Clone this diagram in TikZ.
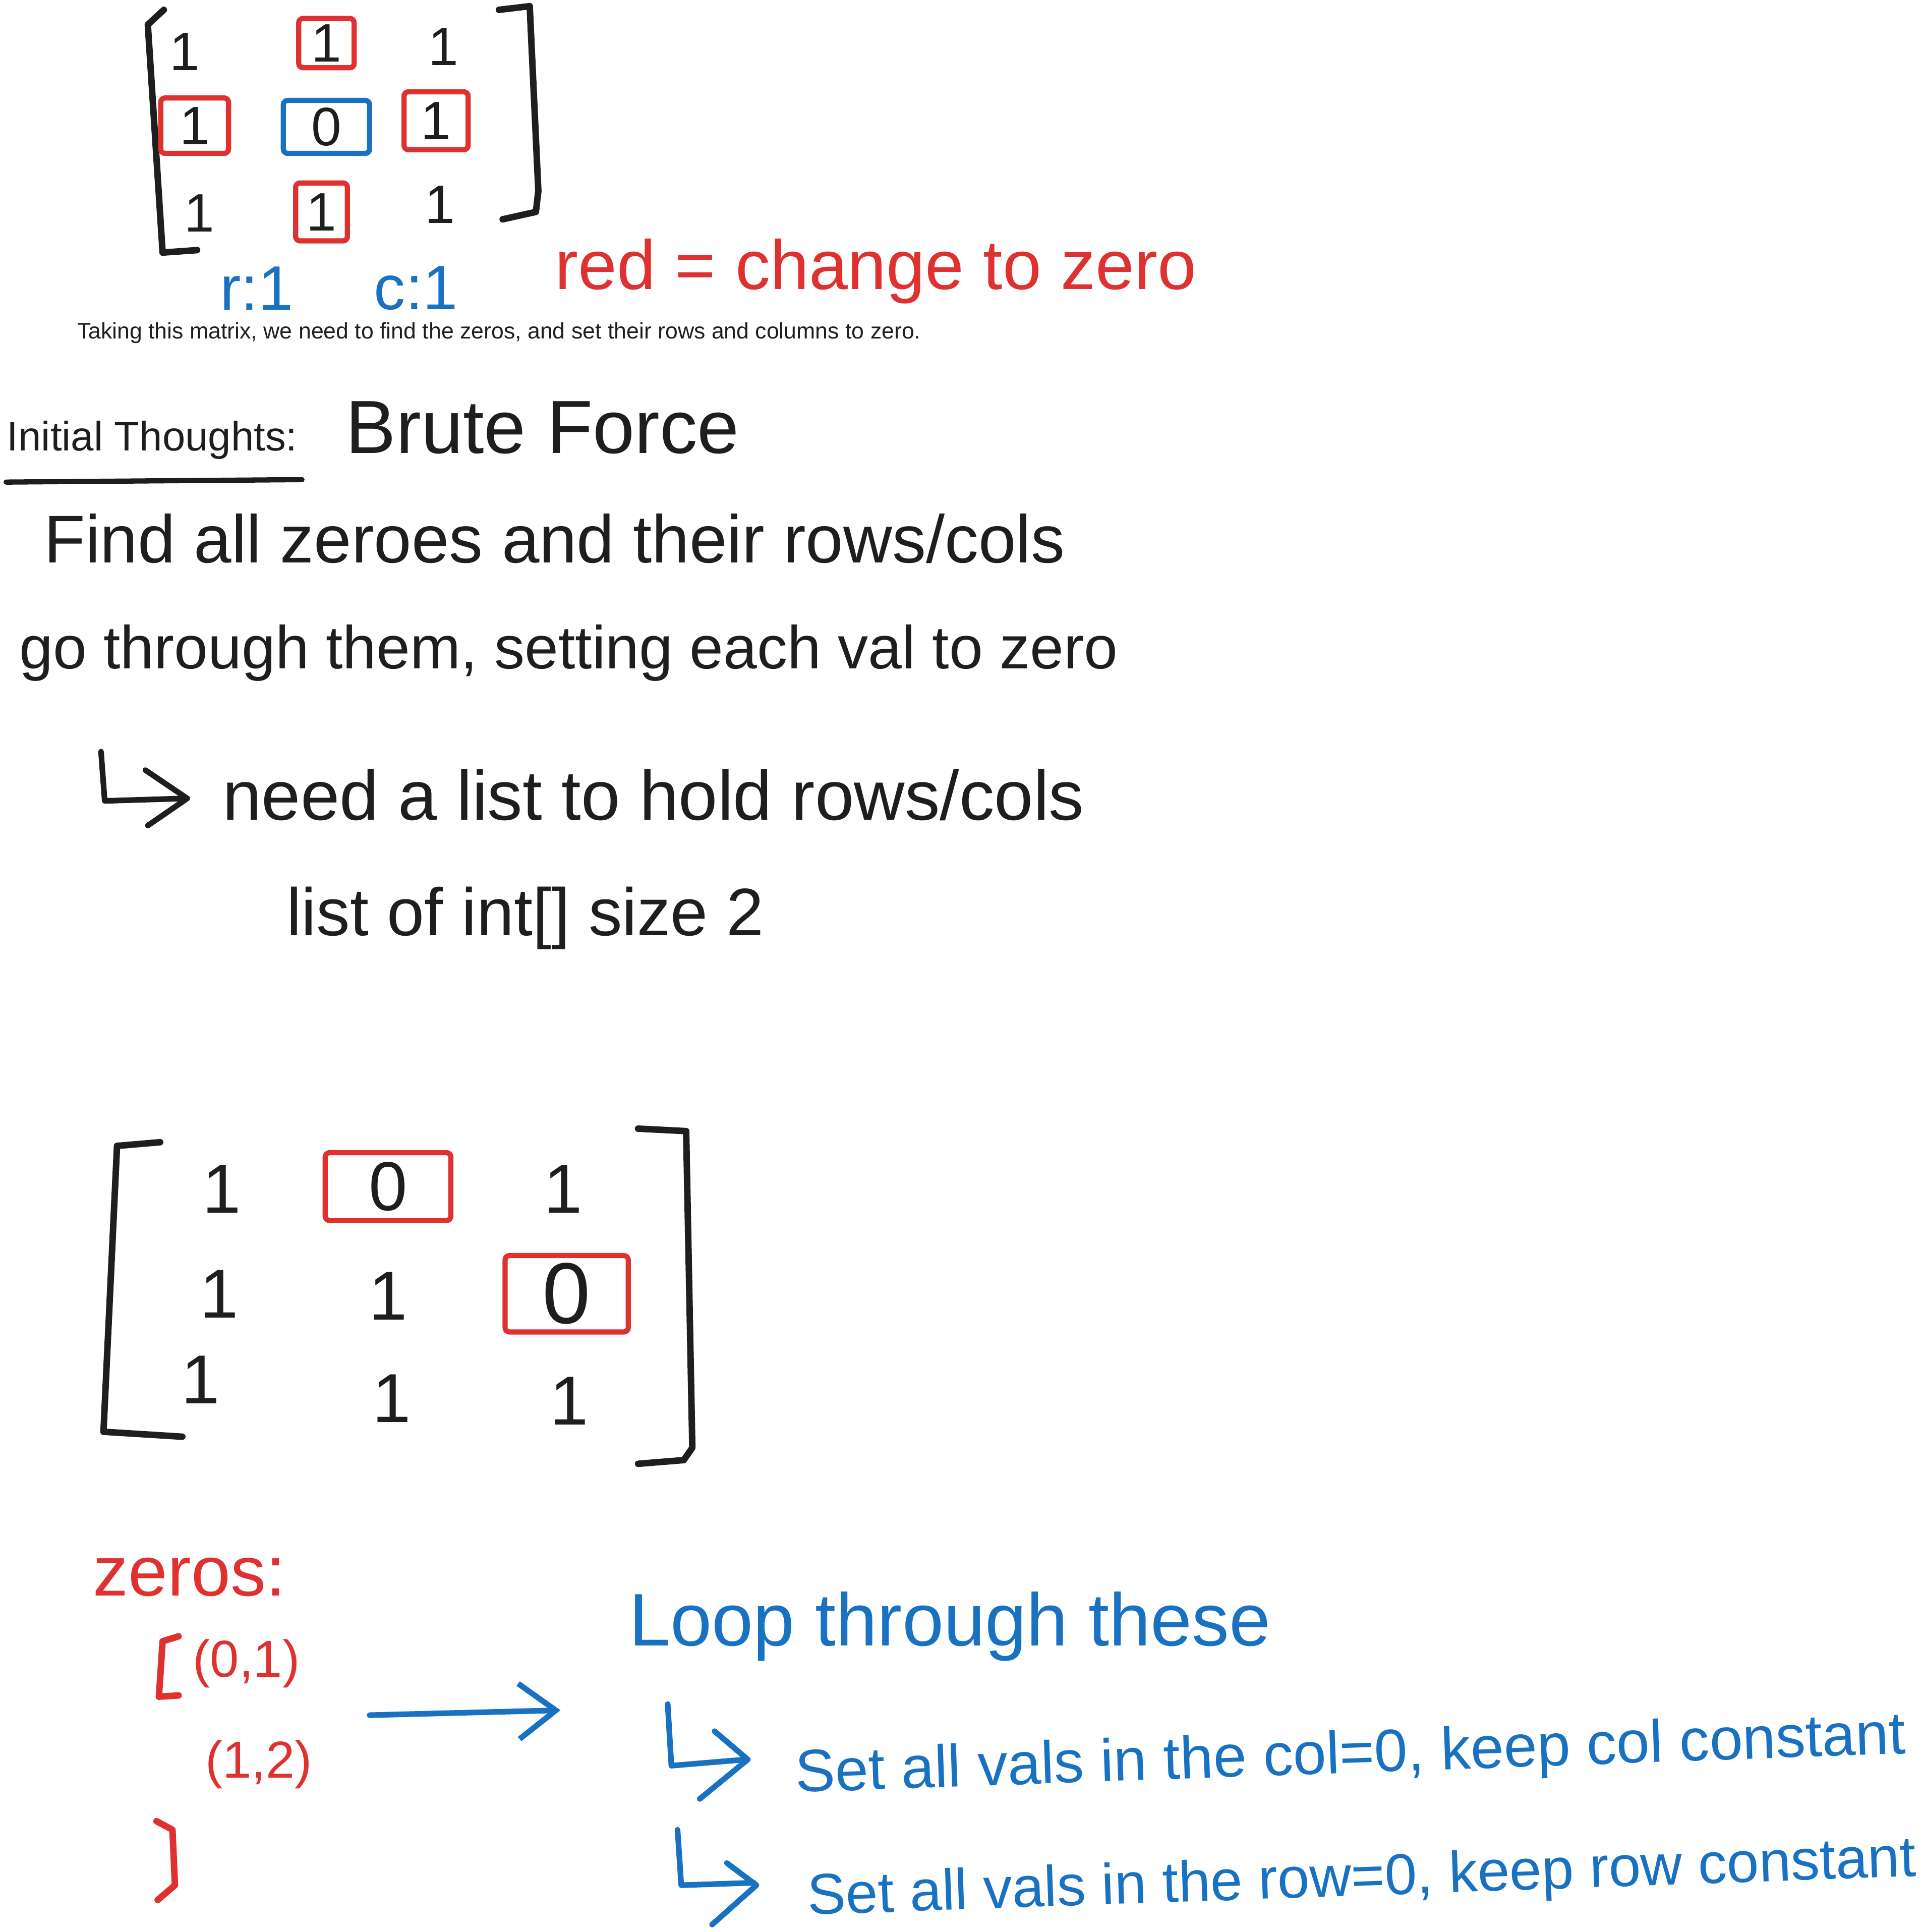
\documentclass[tikz,border=0pt]{standalone}
\usepackage{fontspec}
\setmainfont{Liberation Sans}
\usetikzlibrary{arrows.meta,positioning}
\definecolor{exRed}{HTML}{E03131}
\definecolor{exBlue}{HTML}{1971C2}
\definecolor{exInk}{HTML}{1E1E1E}
\newcommand{\fsz}[1]{\fontsize{#1}{#1}\selectfont}
\tikzset{
  ink/.style={exInk, line width=1.5pt, line cap=round, line join=round},
  redink/.style={exRed, line width=1.5pt, line cap=round, line join=round},
  blueink/.style={exBlue, line width=1.3pt, line cap=round, line join=round},
  entry/.style={text=exInk, font=\fsz{16}, inner sep=0pt},
  redbox/.style={draw=exRed, line width=1.2pt, rounded corners=1pt},
  bluebox/.style={draw=exBlue, line width=1.2pt, rounded corners=1pt},
  note/.style={anchor=west, inner sep=0pt, text=exInk}
}
\begin{document}
\begin{tikzpicture}
\useasboundingbox (0,0) rectangle (15.61,-15.68);

\draw[ink] (1.33,-0.08) -- (1.20,-0.20) -- (1.32,-2.05) -- (1.60,-2.03);
\draw[ink] (4.05,-0.08) -- (4.30,-0.05) -- (4.37,-1.55) -- (4.35,-1.72) -- (4.08,-1.78);

\node[entry, font=\fsz{12.5}] (a11) at (1.50,-0.42) {1};
\node[entry, font=\fsz{12.5}, redbox, minimum width=0.45cm, minimum height=0.40cm] (a12) at (2.65,-0.35) {1};
\node[entry, font=\fsz{12.5}] (a13) at (3.60,-0.38) {1};
\node[entry, font=\fsz{12.5}, redbox, minimum width=0.55cm, minimum height=0.45cm] (a21) at (1.58,-1.02) {1};
\node[entry, font=\fsz{12.5}, bluebox, minimum width=0.70cm, minimum height=0.43cm] (a22) at (2.65,-1.03) {0};
\node[entry, font=\fsz{12.5}, redbox, minimum width=0.52cm, minimum height=0.47cm] (a23) at (3.54,-0.98) {1};
\node[entry, font=\fsz{12.5}] (a31) at (1.62,-1.73) {1};
\node[entry, font=\fsz{12.5}, redbox, minimum width=0.42cm, minimum height=0.47cm] (a32) at (2.61,-1.72) {1};
\node[entry, font=\fsz{12.5}] (a33) at (3.57,-1.66) {1};

\node[note, text=exBlue, font=\fsz{14.5}] (rIdx) at (1.78,-2.34) {r:1};
\node[note, text=exBlue, font=\fsz{14.5}] (cIdx) at (3.03,-2.34) {c:1};
\node[note, text=exRed, font=\fsz{16.1}] (legend) at (4.50,-2.20) {red = change to zero};
\node[note, font=\fsz{5.2}] (caption) at (0.62,-2.70) {Taking this matrix, we need to find the zeros, and set their rows and columns to zero.};

\node[note, font=\fsz{9.5}] (initial) at (0.05,-3.57) {Initial Thoughts:};
\draw[ink, line width=1.2pt] ([yshift=-0.18cm]initial.south west) -- ([yshift=-0.16cm,xshift=0.03cm]initial.south east);
\node[note, font=\fsz{17.4}] (brute) at (2.80,-3.47) {Brute Force};
\node[note, font=\fsz{15.6}] (find) at (0.35,-4.37) {Find all zeroes and their rows/cols};
\node[note, font=\fsz{14}] (goThru) at (0.15,-5.30) {go through them, setting each val to zero};
\draw[ink, line width=1.3pt] (0.82,-6.10) -- (0.85,-6.50) -- (1.50,-6.48);
\draw[ink, line width=1.3pt] (1.18,-6.25) -- (1.52,-6.48) -- (1.20,-6.70);
\node[note, font=\fsz{16.2}] (needList) at (1.80,-6.45) {need a list to hold rows/cols};
\node[note, font=\fsz{15.5}] (listOf) at (2.32,-7.45) {list of int[] size 2};

\draw[ink] (1.30,-9.27) -- (0.95,-9.30) -- (0.84,-11.62) -- (1.48,-11.66);
\draw[ink] (5.18,-9.16) -- (5.57,-9.18) -- (5.62,-11.75) -- (5.55,-11.85) -- (5.18,-11.88);

\node[entry] (b11) at (1.80,-9.65) {1};
\node[entry, redbox, minimum width=1.02cm, minimum height=0.55cm] (b12) at (3.15,-9.63) {0};
\node[entry] (b13) at (4.57,-9.65) {1};
\node[entry] (b21) at (1.78,-10.50) {1};
\node[entry] (b22) at (3.15,-10.52) {1};
\node[entry, redbox, minimum width=1.00cm, minimum height=0.62cm, font=\fsz{20}] (b23) at (4.60,-10.50) {0};
\node[entry] (b31) at (1.63,-11.20) {1};
\node[entry] (b32) at (3.18,-11.35) {1};
\node[entry] (b33) at (4.62,-11.37) {1};

\node[note, text=exRed, font=\fsz{16.3}] (zerosLbl) at (0.75,-12.80) {zeros:};
\draw[redink] (1.45,-13.28) -- (1.32,-13.32) -- (1.29,-13.77) -- (1.45,-13.76);
\node[text=exRed, font=\fsz{12}, inner sep=0pt] (zA) at (2.00,-13.50) {(0,1)};
\node[text=exRed, font=\fsz{12}, inner sep=0pt] (zB) at (2.10,-14.32) {(1,2)};
\draw[redink] (1.27,-14.78) -- (1.40,-14.85) -- (1.42,-15.30) -- (1.28,-15.42);

\coordinate (arrS) at (3.00,-13.92);
\coordinate (arrE) at (4.55,-13.88);
\draw[blueink, -{Straight Barb[length=0.3cm, width=0.45cm]}] (arrS) -- (arrE);

\node[note, text=exBlue, font=\fsz{17.2}] (loopLbl) at (5.10,-13.20) {Loop through these};
\draw[blueink] (5.42,-13.83) -- (5.45,-14.33) -- (6.05,-14.28);
\draw[blueink] (5.80,-14.05) -- (6.07,-14.28) -- (5.68,-14.60);
\node[note, text=exBlue, font=\fsz{13.8}, rotate=2] (colSet) at (6.45,-14.42) {Set all vals in the col=0, keep col constant};
\draw[blueink] (5.50,-14.85) -- (5.53,-15.30) -- (6.12,-15.28);
\draw[blueink] (5.90,-15.12) -- (6.14,-15.30) -- (5.78,-15.62);
\node[note, text=exBlue, font=\fsz{13.3}, rotate=2] (rowSet) at (6.55,-15.42) {Set all vals in the row=0, keep row constant};
\end{tikzpicture}
\end{document}
